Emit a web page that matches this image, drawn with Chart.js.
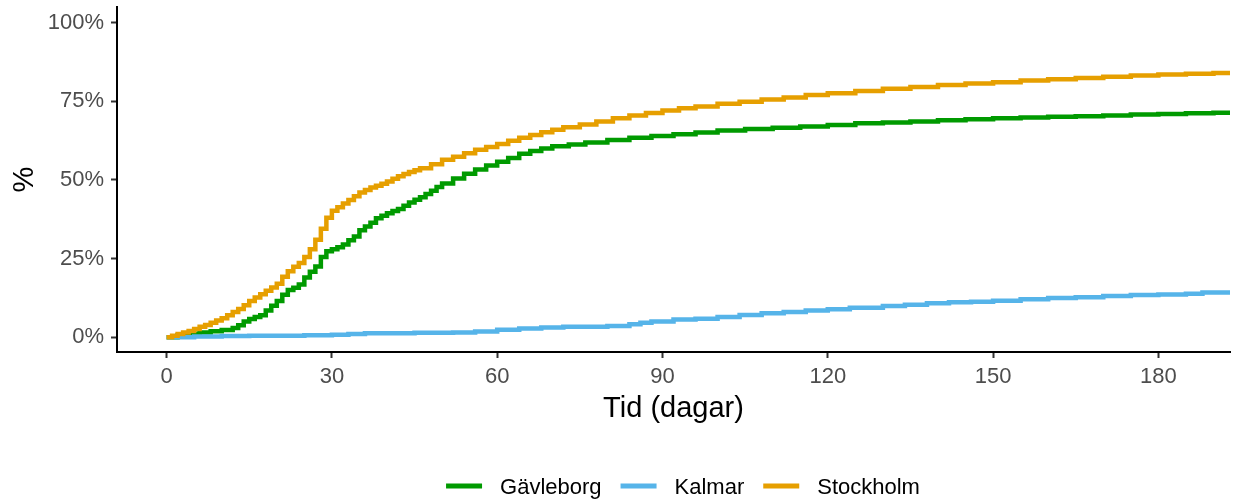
<!DOCTYPE html>
<html lang="sv">
<head>
<meta charset="utf-8">
<title>Kumulativ andel över tid per region</title>
<script src="https://cdn.jsdelivr.net/npm/chart.js@4/dist/chart.umd.min.js"></script>
<style>
  html, body { margin: 0; padding: 0; background: #ffffff; }
  #wrap { width: 1234px; height: 501px; }
</style>
</head>
<body>
<div id="wrap"><canvas id="c" width="1234" height="501"></canvas></div>
<script>
// Regions, in legend order
const regions = ['Gävleborg', 'Kalmar', 'Stockholm'];

// Cumulative share (%) by day, step curves
const gavleborgDays = [0, 2, 4, 6, 8, 10, 12, 13, 14, 15, 16, 17, 18, 19, 20, 21, 22, 23, 24, 25, 26, 27, 28, 29, 30, 31, 32, 33, 34, 35, 36, 37, 38, 39, 40, 41, 42, 43, 44, 45, 46, 47, 48, 49, 50, 52, 54, 56, 58, 60, 62, 64, 66, 68, 70, 73, 76, 80, 84, 88, 92, 96, 100, 105, 110, 115, 120, 125, 130, 135, 140, 145, 150, 155, 160, 165, 170, 175, 180, 185, 190, 196];
const gavleborgPct  = [0, 0.6, 1.1, 1.5, 1.9, 2.3, 2.9, 3.8, 5.0, 5.8, 6.4, 7.0, 8.5, 10.0, 11.5, 13.5, 15.0, 15.7, 16.8, 19.0, 20.8, 22.5, 25.5, 27.3, 28.0, 28.6, 29.5, 30.8, 32.0, 34.0, 35.2, 36.4, 37.8, 38.6, 39.4, 40.1, 40.8, 41.8, 42.8, 43.7, 44.5, 45.5, 46.6, 47.8, 48.9, 50.5, 52.0, 53.3, 54.6, 55.8, 57.0, 58.3, 59.2, 60.0, 60.7, 61.3, 61.9, 62.7, 63.4, 64.0, 64.5, 65.1, 65.7, 66.2, 66.6, 67.0, 67.5, 68.0, 68.3, 68.6, 69.0, 69.3, 69.6, 69.9, 70.1, 70.3, 70.5, 70.8, 71.0, 71.2, 71.4, 71.5];

const kalmarDays = [0, 5, 10, 15, 25, 30, 33, 36, 45, 52, 56, 60, 64, 68, 72, 80, 84, 86, 88, 92, 96, 100, 104, 108, 112, 116, 120, 124, 130, 134, 138, 142, 146, 150, 155, 160, 165, 170, 175, 180, 185, 188, 196];
const kalmarPct  = [0, 0.2, 0.4, 0.5, 0.6, 0.8, 1.0, 1.3, 1.4, 1.5, 1.8, 2.4, 2.8, 3.1, 3.3, 3.6, 4.1, 4.6, 5.0, 5.6, 5.9, 6.4, 7.1, 7.6, 8.0, 8.5, 8.9, 9.4, 9.9, 10.3, 10.8, 11.1, 11.3, 11.6, 12.1, 12.5, 12.7, 13.1, 13.4, 13.6, 13.8, 14.2, 14.3];

const stockholmDays = [0, 1, 2, 3, 4, 5, 6, 7, 8, 9, 10, 11, 12, 13, 14, 15, 16, 17, 18, 19, 20, 21, 22, 23, 24, 25, 26, 27, 28, 29, 30, 31, 32, 33, 34, 35, 36, 37, 38, 39, 40, 41, 42, 43, 44, 45, 46, 48, 50, 52, 54, 56, 58, 60, 62, 64, 66, 68, 70, 72, 75, 78, 81, 84, 87, 90, 93, 96, 100, 104, 108, 112, 116, 120, 125, 130, 135, 140, 145, 150, 155, 160, 165, 170, 175, 180, 185, 190, 196];
const stockholmPct  = [0, 0.5, 1.0, 1.5, 2.0, 2.6, 3.3, 3.9, 4.6, 5.3, 6.0, 7.0, 8.0, 9.0, 10.2, 11.5, 12.6, 13.7, 14.8, 15.8, 17.0, 19.2, 21.0, 22.4, 23.6, 25.5, 28.0, 31.0, 34.5, 38.0, 40.2, 41.3, 42.5, 43.6, 44.8, 46.0, 46.8, 47.6, 48.2, 48.8, 49.5, 50.4, 51.2, 51.9, 52.5, 53.1, 53.7, 55.0, 56.4, 57.4, 58.5, 59.6, 60.5, 61.4, 62.5, 63.4, 64.3, 65.2, 66.0, 66.8, 67.6, 68.6, 69.6, 70.5, 71.3, 72.1, 72.8, 73.4, 74.2, 74.9, 75.6, 76.2, 77.0, 77.6, 78.3, 79.0, 79.6, 80.2, 80.7, 81.1, 81.6, 82.0, 82.4, 82.8, 83.2, 83.5, 83.8, 84.0, 84.1];

// Axis ticks
const xTickValues = [0, 30, 60, 90, 120, 150, 180];
const yTickValues = [0, 25, 50, 75, 100];

const regionColors = ['#009A00', '#56B4E9', '#E69F00'];
const FONT = '"Liberation Sans", Arial, Helvetica, sans-serif';

function toPoints(days, pct) {
  return days.map((d, i) => ({ x: d, y: pct[i] }));
}

const seriesPoints = [
  toPoints(gavleborgDays, gavleborgPct),
  toPoints(kalmarDays, kalmarPct),
  toPoints(stockholmDays, stockholmPct)
];

// Legend row under the x-axis title
const bottomKey = {
  id: 'bottomKey',
  afterDraw(chart) {
    const ctx = chart.ctx;
    const ds = chart.data.datasets;
    const lineLen = 36, gapText = 18, gapItem = 19, y = 486;
    ctx.save();
    ctx.font = '22px ' + FONT;
    const widths = ds.map(d => lineLen + gapText + ctx.measureText(d.label).width);
    const total = widths.reduce((a, b) => a + b, 0) + gapItem * (ds.length - 1);
    let x = 683 - total / 2;
    ds.forEach((d, i) => {
      ctx.strokeStyle = d.borderColor;
      ctx.lineWidth = 5;
      ctx.lineCap = 'butt';
      ctx.beginPath();
      ctx.moveTo(x, y);
      ctx.lineTo(x + lineLen, y);
      ctx.stroke();
      ctx.fillStyle = '#000000';
      ctx.textAlign = 'left';
      ctx.textBaseline = 'alphabetic';
      ctx.fillText(d.label, x + lineLen + gapText, y + 8);
      x += widths[i] + gapItem;
    });
    ctx.restore();
  }
};

new Chart(document.getElementById('c'), {
  type: 'line',
  data: {
    datasets: regions.map((name, i) => ({
      label: name,
      data: seriesPoints[i],
      borderColor: regionColors[i],
      backgroundColor: regionColors[i],
      borderWidth: 4.5,
      stepped: 'before',
      pointRadius: 0,
      fill: false,
      order: regions.length - i,
      clip: { left: 6, top: 6, right: 0, bottom: 6 }
    }))
  },
  options: {
    responsive: false,
    devicePixelRatio: 1,
    animation: false,
    events: [],
    layout: { padding: { top: 7, right: 4, bottom: 75, left: 0 } },
    plugins: {
      legend: { display: false },
      tooltip: { enabled: false },
      title: { display: false }
    },
    scales: {
      x: {
        type: 'linear',
        min: -9.0,
        max: 193.0,
        afterBuildTicks: s => { s.ticks = xTickValues.map(v => ({ value: v })); },
        afterFit: s => { s.height = 74; s.paddingLeft = 0; s.paddingRight = 0; },
        grid: { display: true, drawOnChartArea: false, drawTicks: true, tickLength: 6, tickWidth: 2, tickColor: '#333333' },
        border: { display: true, color: '#000000', width: 2 },
        ticks: {
          color: '#4D4D4D',
          font: { family: FONT, size: 22 },
          padding: 6,
          maxRotation: 0,
          autoSkip: false,
          callback: v => String(v)
        },
        title: {
          display: true,
          text: 'Tid (dagar)',
          color: '#000000',
          font: { family: FONT, size: 29 },
          padding: { top: 0, bottom: 0 }
        }
      },
      y: {
        type: 'linear',
        min: -4.7,
        max: 105,
        afterBuildTicks: s => { s.ticks = yTickValues.map(v => ({ value: v })); },
        afterFit: s => { s.width = 117; s.paddingTop = 0; s.paddingBottom = 0; },
        grid: { display: true, drawOnChartArea: false, drawTicks: true, tickLength: 6, tickWidth: 2, tickColor: '#333333' },
        border: { display: true, color: '#000000', width: 2 },
        ticks: {
          color: '#4D4D4D',
          font: { family: FONT, size: 22 },
          padding: 7,
          autoSkip: false,
          callback: v => v + '%'
        },
        title: {
          display: true,
          text: '%',
          color: '#000000',
          font: { family: FONT, size: 29 },
          padding: { top: 8, bottom: 0 }
        }
      }
    }
  },
  plugins: [bottomKey]
});
</script>
</body>
</html>
